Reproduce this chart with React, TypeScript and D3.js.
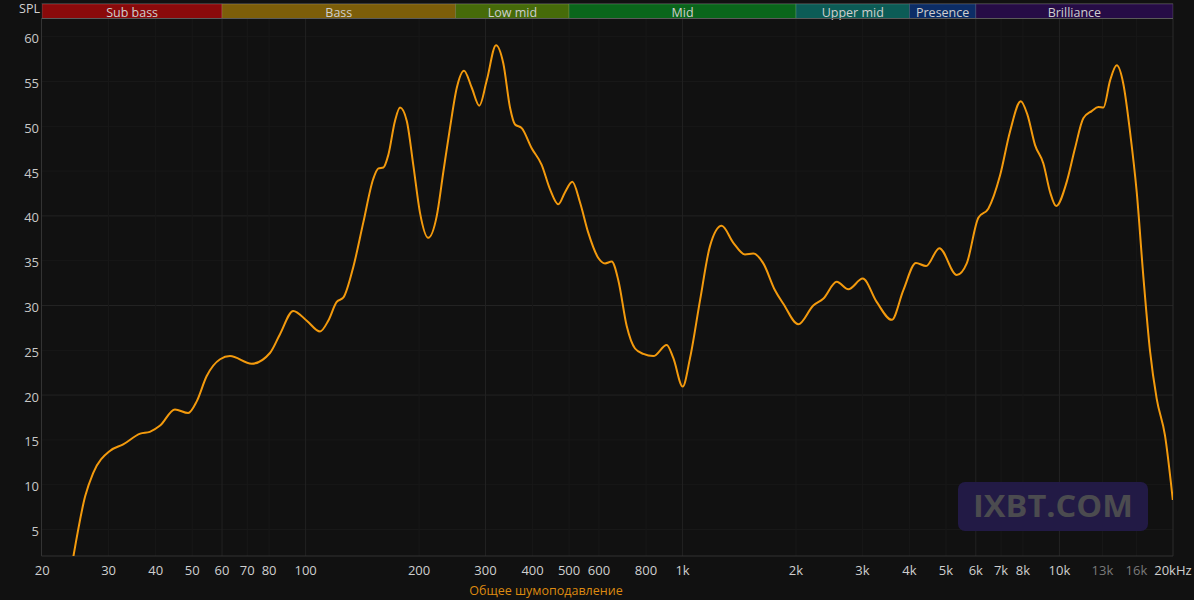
import React from 'react';
import * as d3 from 'd3';

// frequency response, Hz / dB SPL
const freqs = [
  24.2, 26, 27.3, 30.3, 32.8, 36.4, 38.6, 41.1, 45, 48.8, 51.4, 54.6, 59.3, 63, 71.9, 80.4, 85.5, 92.7,
  100.7, 109.2, 114.8, 120.9, 126, 133.8, 142.2, 151.2, 156, 160.8, 165.7, 172.6, 178, 185.5, 193, 201,
  211.5, 222.8, 231.9, 241.5, 251.8, 263.2, 275.9, 288.9, 302.3, 320, 334.6, 348.5, 359.4, 374.4, 397.9,
  422.9, 444.8, 468.2, 487.8, 510, 534.6, 562.4, 597.8, 622.8, 648.6, 675.6, 711, 748, 787.3, 836.5,
  907.8, 945, 1001, 1047, 1113, 1182, 1270, 1364, 1464, 1540, 1638, 1759, 1851, 2028, 2223, 2362, 2565,
  2753, 3007, 3274, 3589, 3852, 4163, 4426, 4802, 5339, 5676, 6093, 6475, 6956, 7392, 7897, 8222, 8616,
  9064, 9446, 9801, 10455, 10998, 11571, 12180, 12685, 13082, 13624, 14193, 14780, 15391, 16035, 16699,
  17393, 18112, 19055, 19990,
];
const spl = [
  2.0, 8.7, 11.3, 13.8, 14.5, 15.7, 15.9, 16.6, 18.4, 18.0, 19.3, 22.1, 24.0, 24.35, 23.5, 24.7, 26.8, 29.4,
  28.3, 27.1, 28.3, 30.4, 30.9, 34.3, 39.25, 44.15, 45.3, 45.4, 46.8, 50.6, 52.1, 50.6, 45.7, 40.4,
  37.55, 40.0, 44.9, 49.8, 54.3, 56.2, 54.3, 52.3, 55.1, 59.05, 57.0, 52.1, 50.2, 49.8, 47.55,
  45.7, 43.0, 41.3, 42.65, 43.8, 41.5, 38.1, 35.3, 34.7, 34.9, 32.8, 27.7, 25.2, 24.6, 24.35,
  25.6, 24.15, 20.95, 24.15, 30.6, 36.6, 38.9, 37.0, 35.7, 35.8, 34.7, 31.7, 30.2, 27.9, 30.0, 30.75, 32.65,
  31.8, 33.0, 30.4, 28.4, 31.7, 34.75, 34.4, 36.4, 33.4, 34.7, 39.8, 40.8, 44.5, 49.4, 52.8, 51.3, 47.9,
  45.85, 42.65, 41.1, 43.8, 47.55, 50.9, 51.7, 52.15, 52.1, 55.1, 56.8, 54.7, 49.4, 42.65, 33.2,
  24.9, 19.6, 15.5, 8.3,
];

const xTicks = [20, 30, 40, 50, 60, 70, 80, 100, 200, 300, 400, 500, 600, 800, 1000, 2000, 3000, 4000, 5000, 6000, 7000, 8000, 10000, 13000, 16000, 20000];
const xTickLabels = ['20', '30', '40', '50', '60', '70', '80', '100', '200', '300', '400', '500', '600', '800', '1k', '2k', '3k', '4k', '5k', '6k', '7k', '8k', '10k', '13k', '16k', '20kHz'];
const dimTicks = [13000, 16000];
const majorX = [60, 100, 300, 1000, 6000, 10000];

const yTicks = [5, 10, 15, 20, 25, 30, 35, 40, 45, 50, 55, 60];
const majorY = [20, 30, 40];

const bandNames = ['Sub bass', 'Bass', 'Low mid', 'Mid', 'Upper mid', 'Presence', 'Brilliance'];
const bandEdges = [20, 60, 250, 500, 2000, 4000, 6000, 20000];
const bandColors = ['#8a0a0b', '#7d5e09', '#466b09', '#0a661b', '#0c5c56', '#0c2d66', '#260c46'];

const seriesName = 'Общее шумоподавление';

const W = 1194;
const H = 600;
const left = 41.5, right = 1173, top = 19, bottom = 556;

export default function App() {
  const x = d3.scaleLog().domain([20, 20000]).range([42.2, 1172.9]);
  const y = d3.scaleLinear().domain([20, 40]).range([395.1, 215.9]);

  const pts = freqs.map((f, i) => [x(f), y(spl[i])] as [number, number]);
  const line = d3.line().curve(d3.curveMonotoneX)(pts) || '';

  const font = '"Open Sans", "Noto Sans", sans-serif';

  return (
    <svg width={W} height={H} style={{ display: 'block', background: '#111111' }} fontFamily={font}>
      <style>{`body{margin:0;background:#111111;}`}</style>
      <defs>
        <clipPath id="plot">
          <rect x={left} y={top} width={right - left} height={bottom - top} />
        </clipPath>
      </defs>

      {/* grid */}
      {yTicks.map((t) => (
        <line key={'gy' + t} x1={left} x2={right} y1={y(t)} y2={y(t)}
          stroke={majorY.includes(t) ? '#232323' : '#181818'} strokeWidth={1} />
      ))}
      {xTicks.slice(1, -1).map((t) => (
        <line key={'gx' + t} x1={x(t)} x2={x(t)} y1={top} y2={bottom}
          stroke={majorX.includes(t) ? '#222222' : '#181818'} strokeWidth={1} />
      ))}

      {/* frame */}
      <line x1={left} x2={left} y1={top} y2={bottom} stroke="#333" />
      <line x1={right} x2={right} y1={top} y2={bottom} stroke="#2c2c2c" />
      <line x1={left} x2={right} y1={bottom} y2={bottom} stroke="#333" />

      {/* frequency bands */}
      <line x1={left} x2={right} y1={3.5} y2={3.5} stroke="#2a2a2a" />
      {bandNames.map((name, i) => {
        const x0 = x(bandEdges[i]);
        const x1 = x(bandEdges[i + 1]);
        return (
          <g key={name}>
            <rect x={x0} y={4} width={x1 - x0} height={14.5} fill={bandColors[i]}
              stroke="rgba(255,255,255,0.18)" strokeWidth={0.8} />
            <text x={(x0 + x1) / 2} y={16.5} textAnchor="middle" fontSize={12.5} fill="#cfcfcf">{name}</text>
          </g>
        );
      })}
      <line x1={left} x2={right} y1={18.5} y2={18.5} stroke="#5a5a5a" />

      {/* y axis */}
      <text x={40} y={13} textAnchor="end" fontSize={12.5} fill="#d0d0d0">SPL</text>
      {yTicks.map((t) => (
        <text key={'ty' + t} x={39} y={y(t) + 6.5} textAnchor="end" fontSize={13} fill="#c8c8c8">{t}</text>
      ))}

      {/* x axis */}
      {xTicks.map((t, i) => (
        <text key={'tx' + t} x={x(t)} y={575} textAnchor="middle" fontSize={13}
          fill={dimTicks.includes(t) ? '#7a7a7a' : '#cfcfcf'}>{xTickLabels[i]}</text>
      ))}

      {/* watermark */}
      <rect x={958} y={482} width={190} height={49} rx={7} fill="#221a45" />
      <text x={1053} y={517} textAnchor="middle" fontSize={31} fontWeight={700} fill="#4b4b4f"
        textLength={160} lengthAdjust="spacingAndGlyphs">IXBT.COM</text>

      {/* curve */}
      <path d={line} fill="none" stroke="#f39a0d" strokeWidth={2} clipPath="url(#plot)" />

      {/* legend */}
      <text x={546} y={595} textAnchor="middle" fontSize={12.5} fill="#dd8a10">{seriesName}</text>
    </svg>
  );
}
